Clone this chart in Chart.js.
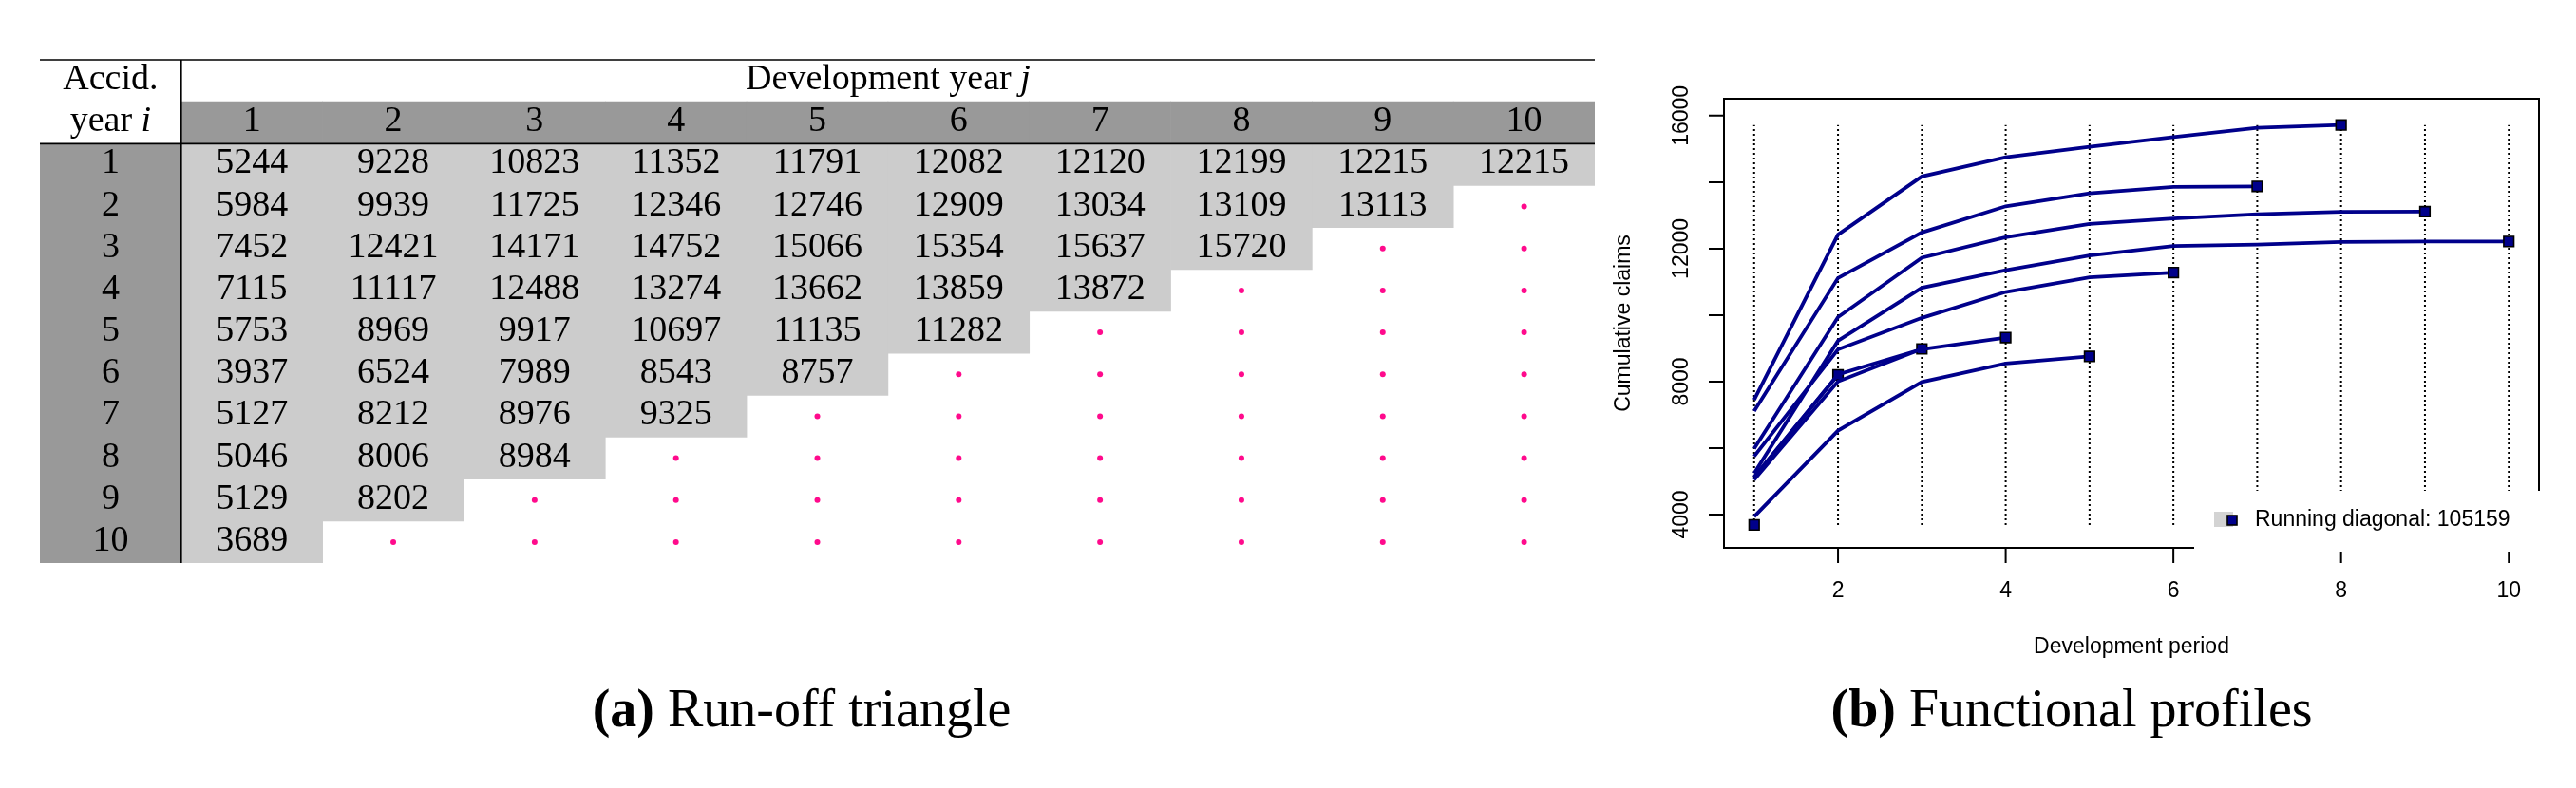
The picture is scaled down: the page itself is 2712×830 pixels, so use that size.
<!DOCTYPE html>
<html>
<head>
<meta charset="utf-8">
<title>Run-off triangle and functional profiles</title>
<script src="https://cdn.jsdelivr.net/npm/chart.js@4.4.1/dist/chart.umd.min.js"></script>
<style>
  html, body { margin: 0; padding: 0; background: #fff; }
  body { width: 2712px; height: 830px; position: relative; overflow: hidden; }
  #tableCanvas { position: absolute; left: 32px; top: 53px; }
  #profileCanvas { position: absolute; left: 1680px; top: 0; }
  .caption {
    position: absolute; top: 718px; transform: translateX(-50%);
    font-family: "Liberation Serif", "Times New Roman", serif;
    font-size: 56px; line-height: 56px; white-space: nowrap; color: #000;
  }
</style>
</head>
<body>
<canvas id="tableCanvas" width="1657" height="550"></canvas>
<canvas id="profileCanvas" width="1032" height="720"></canvas>
<div class="caption" style="left:844px"><b>(a)</b> Run-off triangle</div>
<div class="caption" style="left:2181px"><b>(b)</b> Functional profiles</div>

<script>
// cumulative claims per accident year (rows of the triangle)
const ay1 = [5244, 9228, 10823, 11352, 11791, 12082, 12120, 12199, 12215, 12215];
const ay2 = [5984, 9939, 11725, 12346, 12746, 12909, 13034, 13109, 13113];
const ay3 = [7452, 12421, 14171, 14752, 15066, 15354, 15637, 15720];
const ay4 = [7115, 11117, 12488, 13274, 13662, 13859, 13872];
const ay5 = [5753, 8969, 9917, 10697, 11135, 11282];
const ay6 = [3937, 6524, 7989, 8543, 8757];
const ay7 = [5127, 8212, 8976, 9325];
const ay8 = [5046, 8006, 8984];
const ay9 = [5129, 8202];
const ay10 = [3689];

const accYears = [1, 2, 3, 4, 5, 6, 7, 8, 9, 10];
const devYears = [1, 2, 3, 4, 5, 6, 7, 8, 9, 10];

// axis ticks of the profile plot
const xTicks = [2, 4, 6, 8, 10];
const yTicks = [4000, 6000, 8000, 10000, 12000, 14000, 16000];
const yTickLabels = [4000, 8000, 12000, 16000];

const xTitle = "Development period";
const yTitle = "Cumulative claims";
const legendPrefix = "Running diagonal: ";

const triangle = [ay1, ay2, ay3, ay4, ay5, ay6, ay7, ay8, ay9, ay10];

const NAVY = "#00008B";
const SERIF = '"Liberation Serif", "Times New Roman", serif';
const SANS = '"Liberation Sans", Arial, sans-serif';

// ---------- (a) run-off triangle ----------
const colKeys = ["acc"].concat(devYears.map(String));

// observed cells of column j are rows 1..n (one floating bar per column)
const observedBars = colKeys.map((k, c) => {
  if (c === 0) return null;
  const n = triangle.filter(r => r.length >= c).length;
  return [0.5, n + 0.5];
});
const headerBars = colKeys.map((k, c) => c === 0 ? [0.5, accYears.length + 0.5] : [-0.5, 0.5]);

const missingCells = [];
triangle.forEach((row, i) => {
  devYears.forEach(j => {
    if (j > row.length) missingCells.push({ x: String(j), y: accYears[i] });
  });
});

// draws italic last word after regular text, centred at cx
function mixedText(ctx, plain, ital, cx, by, size) {
  ctx.font = size + "px " + SERIF;
  const w1 = ctx.measureText(plain).width;
  ctx.font = "italic " + size + "px " + SERIF;
  const w2 = ctx.measureText(ital).width;
  const x0 = cx - (w1 + w2) / 2;
  ctx.textAlign = "left";
  ctx.font = size + "px " + SERIF;
  ctx.fillText(plain, x0, by);
  ctx.font = "italic " + size + "px " + SERIF;
  ctx.fillText(ital, x0 + w1, by);
}

const tableText = {
  id: "tableText",
  afterDatasetsDraw(chart) {
    const { ctx, chartArea: a, scales: { x, y } } = chart;
    const size = 38;
    const off = 9;
    ctx.save();
    ctx.fillStyle = "#000";
    ctx.textBaseline = "alphabetic";

    // header
    ctx.textAlign = "center";
    ctx.font = size + "px " + SERIF;
    ctx.fillText("Accid.", x.getPixelForValue(0), y.getPixelForValue(-1) + off);
    mixedText(ctx, "year ", "i", x.getPixelForValue(0), y.getPixelForValue(0) + off, size);
    const cMid = (x.getPixelForValue(1) + x.getPixelForValue(devYears.length)) / 2;
    mixedText(ctx, "Development year ", "j", cMid, y.getPixelForValue(-1) + off, size);

    ctx.textAlign = "center";
    ctx.font = size + "px " + SERIF;
    devYears.forEach(j => ctx.fillText(String(j), x.getPixelForValue(j), y.getPixelForValue(0) + off));
    accYears.forEach(i => ctx.fillText(String(i), x.getPixelForValue(0), y.getPixelForValue(i) + off));

    triangle.forEach((row, i) => {
      row.forEach((v, j) => {
        ctx.fillText(String(v), x.getPixelForValue(j + 1), y.getPixelForValue(accYears[i]) + off);
      });
    });

    // rules
    ctx.strokeStyle = "#000";
    ctx.lineWidth = 1.6;
    const top = y.getPixelForValue(-1.5);
    const hdr = y.getPixelForValue(0.5);
    const bot = y.getPixelForValue(accYears.length + 0.5);
    const div = (x.getPixelForValue(0) + x.getPixelForValue(1)) / 2;
    ctx.beginPath();
    ctx.moveTo(a.left, top); ctx.lineTo(a.right, top);
    ctx.moveTo(a.left, hdr); ctx.lineTo(a.right, hdr);
    ctx.moveTo(div, top); ctx.lineTo(div, bot);
    ctx.stroke();
    ctx.restore();
  }
};

new Chart(document.getElementById("tableCanvas"), {
  type: "bar",
  data: {
    labels: colKeys,
    datasets: [
      {
        type: "line", label: "missing", data: missingCells, showLine: false,
        pointRadius: 3, pointBackgroundColor: "#ff0a8c", pointBorderWidth: 0, order: 0
      },
      {
        label: "observed", data: observedBars, backgroundColor: "#cccccc",
        grouped: false, barPercentage: 1, categoryPercentage: 1, borderWidth: 0, order: 1
      },
      {
        label: "header", data: headerBars, backgroundColor: "#999999",
        grouped: false, barPercentage: 1, categoryPercentage: 1, borderWidth: 0, order: 2
      }
    ]
  },
  options: {
    responsive: false,
    animation: false,
    devicePixelRatio: 1,
    events: [],
    layout: { padding: 10 },
    plugins: { legend: { display: false }, tooltip: { enabled: false } },
    scales: {
      x: { display: false, offset: true },
      y: { display: false, min: -1.5, max: accYears.length + 0.5, reverse: true }
    }
  },
  plugins: [tableText]
});

// ---------- (b) functional profiles ----------
const allValues = triangle.flat();
const minV = Math.min(...allValues);
const maxV = Math.max(...allValues);
const diagonalSum = triangle.reduce((s, row) => s + row[row.length - 1], 0);

const profileSets = triangle.map((row, i) => ({
  label: "year " + accYears[i],
  data: row.map((v, k) => ({ x: devYears[k], y: v })),
  borderColor: NAVY,
  borderWidth: 3.8,
  tension: 0,
  pointStyle: "rect",
  pointRadius: c => c.dataIndex === row.length - 1 ? 7.5 : 0,
  pointBackgroundColor: NAVY,
  pointBorderColor: "#000",
  pointBorderWidth: 1.6,
  order: 1
}));

const guideSets = devYears.map(j => ({
  label: "guide " + j,
  data: [{ x: j, y: minV }, { x: j, y: maxV }],
  borderColor: "#000",
  borderWidth: 2,
  borderDash: [2, 3],
  pointRadius: 0,
  order: 2
}));

const frameAxes = {
  id: "frameAxes",
  afterDatasetsDraw(chart) {
    const { ctx, chartArea: a, scales: { x, y } } = chart;
    ctx.save();
    ctx.strokeStyle = "#000";
    ctx.lineWidth = 2;
    ctx.strokeRect(a.left, a.top, a.right - a.left, a.bottom - a.top);

    ctx.beginPath();
    xTicks.forEach(v => {
      const px = x.getPixelForValue(v);
      ctx.moveTo(px, a.bottom); ctx.lineTo(px, a.bottom + 16);
    });
    yTicks.forEach(v => {
      const py = y.getPixelForValue(v);
      ctx.moveTo(a.left - 16, py); ctx.lineTo(a.left, py);
    });
    ctx.stroke();

    ctx.fillStyle = "#000";
    ctx.font = "23px " + SANS;
    ctx.textAlign = "center";
    ctx.textBaseline = "middle";
    xTicks.forEach(v => ctx.fillText(String(v), x.getPixelForValue(v), a.bottom + 46));
    yTickLabels.forEach(v => {
      ctx.save();
      ctx.translate(a.left - 44, y.getPixelForValue(v));
      ctx.rotate(-Math.PI / 2);
      ctx.fillText(String(v), 0, 0);
      ctx.restore();
    });
    ctx.fillText(xTitle, (a.left + a.right) / 2, a.bottom + 105);
    ctx.save();
    ctx.translate(a.left - 105, (a.top + a.bottom) / 2);
    ctx.rotate(-Math.PI / 2);
    ctx.fillText(yTitle, 0, 0);
    ctx.restore();

    // legend, bottom right, white background over the frame
    const lx = a.right - 363, ly = a.bottom - 60;
    ctx.fillStyle = "#fff";
    ctx.fillRect(lx, ly, 370, 64);
    ctx.fillStyle = "#d3d3d3";
    ctx.fillRect(lx + 21, ly + 22, 20, 16);
    ctx.fillStyle = NAVY;
    ctx.fillRect(lx + 35, ly + 26, 10, 10);
    ctx.lineWidth = 1.6;
    ctx.strokeRect(lx + 35, ly + 26, 10, 10);
    ctx.fillStyle = "#000";
    ctx.textAlign = "left";
    ctx.fillText(legendPrefix + diagonalSum, lx + 64, ly + 31);
    ctx.restore();
  }
};

new Chart(document.getElementById("profileCanvas"), {
  type: "line",
  data: { datasets: profileSets.concat(guideSets) },
  options: {
    responsive: false,
    animation: false,
    devicePixelRatio: 1,
    events: [],
    layout: { padding: { left: 135, right: 39, top: 104, bottom: 143 } },
    plugins: { legend: { display: false }, tooltip: { enabled: false } },
    scales: {
      x: { type: "linear", display: false, min: 0.64, max: 10.36 },
      y: { type: "linear", display: false, min: 3000, max: 16510 }
    }
  },
  plugins: [frameAxes]
});
</script>
</body>
</html>
